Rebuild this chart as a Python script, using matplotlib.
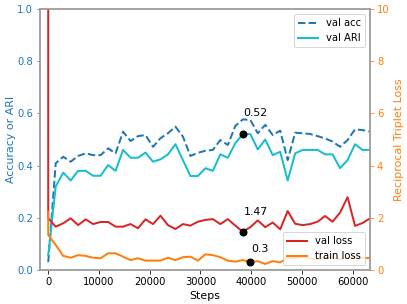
import numpy as np
import matplotlib
matplotlib.use("Agg")
import matplotlib.pyplot as plt

# evaluation every 1475 steps
step_size = 1475
steps = [step_size * k for k in range(44)]
# losses were logged twice at step 0
loss_steps = [0] + steps

val_acc = [0.03, 0.409, 0.434, 0.415, 0.437, 0.447, 0.44, 0.44, 0.466, 0.447,
           0.53, 0.494, 0.513, 0.517, 0.472, 0.505, 0.524, 0.549, 0.511, 0.437,
           0.449, 0.457, 0.46, 0.498, 0.479, 0.552, 0.577, 0.575, 0.524, 0.556,
           0.517, 0.534, 0.421, 0.526, 0.524, 0.521, 0.513, 0.504, 0.492, 0.472,
           0.498, 0.539, 0.536, 0.53]
val_ari = [0.057, 0.32, 0.373, 0.343, 0.38, 0.38, 0.361, 0.361, 0.402, 0.38,
           0.46, 0.43, 0.43, 0.45, 0.415, 0.424, 0.443, 0.482, 0.421, 0.36,
           0.36, 0.39, 0.38, 0.443, 0.43, 0.486, 0.52, 0.521, 0.462, 0.5,
           0.44, 0.453, 0.343, 0.447, 0.46, 0.46, 0.46, 0.443, 0.443, 0.39,
           0.421, 0.482, 0.46, 0.46]
val_loss = [40.0, 1.98, 1.66, 1.79, 1.98, 1.72, 1.94, 1.76, 1.84, 1.84, 1.66,
            1.66, 1.76, 1.6, 1.94, 1.76, 2.08, 1.72, 1.57, 1.76, 1.70,
            1.85, 1.92, 1.95, 1.76, 1.95, 1.70, 1.47, 1.64, 1.90, 1.64,
            1.82, 1.56, 2.26, 1.77, 1.72, 1.76, 1.85, 2.07, 1.85, 2.2,
            2.79, 1.69, 1.8, 1.98]
train_loss = [2.23, 1.34, 0.96, 0.54, 0.47, 0.57, 0.54, 0.47, 0.45, 0.64, 0.64,
              0.51, 0.38, 0.45, 0.36, 0.36, 0.36, 0.47, 0.38, 0.49, 0.51,
              0.36, 0.6, 0.57, 0.49, 0.36, 0.32, 0.38, 0.3, 0.34, 0.23,
              0.34, 0.29, 0.47, 0.45, 0.5, 0.45, 0.42, 0.45, 0.48, 0.42,
              0.45, 0.5, 0.46, 0.46]

best_ari_idx = 26
best_val_idx = 27    # index in loss_steps
best_train_idx = 28  # index in loss_steps

fig = plt.figure(figsize=(407 / 72, 304 / 72), dpi=72)
ax1 = fig.add_axes([40 / 407, 1 - 270 / 304, 330 / 407, 261 / 304])
ax2 = ax1.twinx()

ax1.plot(steps, val_acc, color='tab:blue', linestyle='--', lw=2, label='val acc')
ax1.plot(steps, val_ari, color='tab:cyan', lw=2, label='val ARI')
ax1.plot(steps[best_ari_idx], val_ari[best_ari_idx], 'o', color='black', ms=7)
ax1.annotate(str(round(val_ari[best_ari_idx], 2)),
             (steps[best_ari_idx], val_ari[best_ari_idx]),
             xytext=(0, 21), textcoords='offset points', ha='left', va='center', fontsize=11)

ax2.plot(loss_steps, val_loss, color='tab:red', lw=2, label='val loss')
ax2.plot(loss_steps, train_loss, color='tab:orange', lw=2, label='train loss')
ax2.plot(loss_steps[best_val_idx], val_loss[best_val_idx], 'o', color='black', ms=7)
ax2.plot(loss_steps[best_train_idx], train_loss[best_train_idx], 'o', color='black', ms=7)
ax2.annotate(str(round(val_loss[best_val_idx], 2)),
             (loss_steps[best_val_idx], val_loss[best_val_idx]),
             xytext=(1, 20), textcoords='offset points', ha='left', va='center', fontsize=11)
ax2.annotate(str(round(train_loss[best_train_idx], 2)),
             (loss_steps[best_train_idx], train_loss[best_train_idx]),
             xytext=(1, 13), textcoords='offset points', ha='left', va='center', fontsize=11)

ax1.set_xlim(-step_size * 1.1, steps[-1])
ax1.set_ylim(0, 1)
ax2.set_ylim(0, 10)
ax1.set_xticks([0, 10000, 20000, 30000, 40000, 50000, 60000])

ax1.set_xlabel('Steps', fontsize=11)
ax1.set_ylabel('Accuracy or ARI', color='tab:blue', fontsize=11, labelpad=1)
ax2.set_ylabel('Reciprocal Triplet Loss', color='tab:orange', fontsize=11)
ax1.tick_params(axis='y', colors='tab:blue')
ax2.tick_params(axis='y', colors='tab:orange')

for ax in (ax1, ax2):
    for sp in ax.spines.values():
        sp.set_color('#a0a0a0')
        sp.set_linewidth(1.5)

ax1.legend(loc='upper right')
ax2.legend(loc='lower right')

fig.savefig('out.png', dpi=72)
